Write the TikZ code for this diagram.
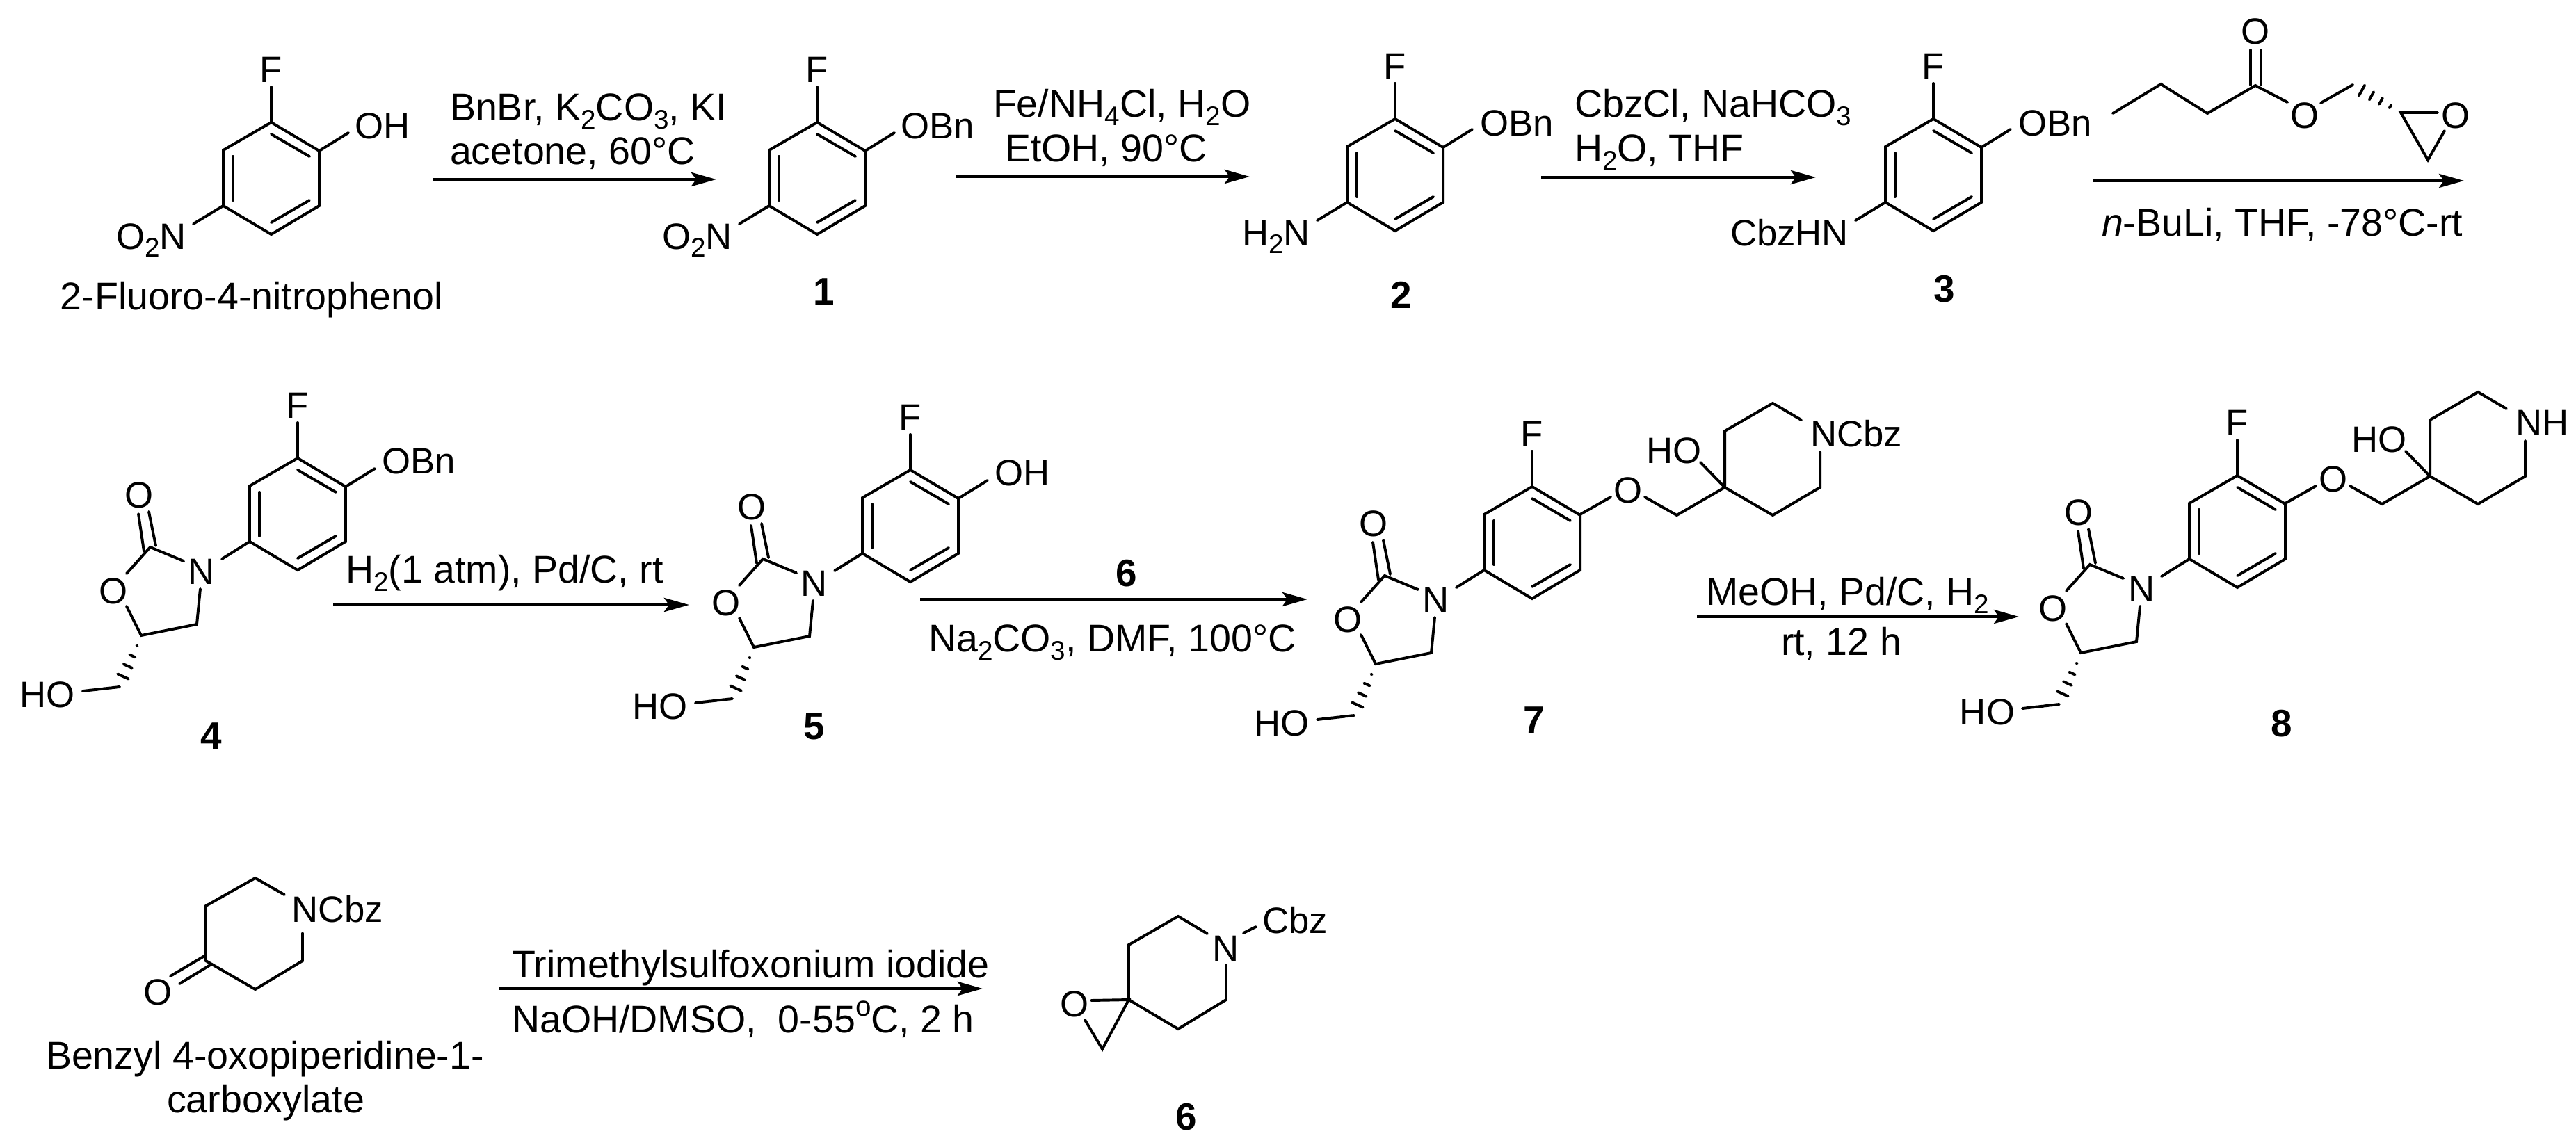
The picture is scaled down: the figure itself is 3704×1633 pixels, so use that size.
\documentclass[tikz,border=0pt]{standalone}
\usepackage{fontspec}
\setmainfont{Liberation Sans}
\usetikzlibrary{arrows.meta,calc}
\newcommand\sbs[1]{\raisebox{-.22em}{\fontsize{11}{12}\selectfont #1}}
\newcommand\sps[1]{\raisebox{.42em}{\fontsize{11.5}{12}\selectfont #1}}
\tikzset{
  lab/.style={font=\fontsize{15}{18}\selectfont,inner sep=0pt,outer sep=0pt,anchor=base west},
  labr/.style={lab,anchor=base east},
  labc/.style={lab,anchor=base},
  rlab/.style={font=\fontsize{15.8}{18}\selectfont,inner sep=0pt,outer sep=0pt,anchor=base west},
  num/.style={inner sep=0pt,outer sep=0pt,anchor=base,font=\fontsize{15.6}{18}\selectfont\bfseries},
  bond/.style={line width=1.12pt,line join=miter,line cap=round},
  rxn/.style={line width=1.35pt,-{Stealth[length=0.36cm,width=0.2cm,inset=0.07cm]}}
}
% benzene ring with its fluorine, origin at the ring's top atom
\newcommand\ArF{%
  \draw[bond] (0,0) -- (69,41) -- (69,120) -- (0,161) -- (-69,120) -- (-69,40) -- cycle;
  \draw[bond] (0,17) -- (55,49);
  \draw[bond] (-55,49) -- (-55,112);
  \draw[bond] (0,144) -- (55,112);
  \draw[bond] (0,-51) -- (0,0);
  \node[labc] (F) at (0,-58) {F};
}
\newcommand\hashb[3]{%
  \coordinate (he) at ($(#1)!1.5!(#2)$);
  \foreach \hf/\hw in {#3}{%
    \coordinate (hc) at ($(#1)!\hf!(#2)$);
    \draw[bond] ($(hc)!\hw*0.01cm!90:(he)$) -- ($(hc)!\hw*0.01cm!-90:(he)$);
  }%
}
% oxazolidinone with hydroxymethyl, same origin
\newcommand\Oxaz{%
  \draw[bond] (-229,80) -- (-221,134);
  \draw[bond] (-214,77) -- (-204,126);
  \draw[bond] (-246,166) -- (-212,128) -- (-164,148);
  \draw[bond] (-109,145) -- (-69,120);
  \draw[bond] (-140,188) -- (-145,239) -- (-225,255) -- (-246,213);
  \hashb{-231,270}{-251,314}{0/0.6,0.33/4.5,0.66/6.5,1/8.5}
  \draw[bond] (-256,329) -- (-309,335);
  \node[labc] (Ocarb) at (-228,71) {O};
  \node[labc] (Nox) at (-138,181) {N};
  \node[labc] (Oring) at (-265,209) {O};
  \node[labr] (HOm) at (-320,358) {HO};
}
% ether side chain with piperidine ring
\newcommand\Side[1]{%
  \draw[bond] (69,40) -- (113,15);
  \draw[bond] (162,15) -- (208,41) -- (277,1) -- (242,-35);
  \draw[bond] (277,1) -- (277,-80) -- (346,-120) -- (387,-96);
  \draw[bond] (414,-50) -- (414,1) -- (346,41) -- (277,1);
  \node[labc] (Oeth) at (138,23) {O};
  \node[lab] (HOq) at (164,-34) {HO};
  \node[lab] (Npip) at (400,-58) {#1};
}
\begin{document}
\begin{tikzpicture}[x=0.01cm,y=-0.01cm]
\useasboundingbox (0,0) rectangle (3704,1633);
\fill[white] (0,0) rectangle (3704,1633);

% 2-fluoro-4-nitrophenol
\begin{scope}[shift={(390,176)},name prefix=a-]
  \ArF
  \draw[bond] (69,41) -- (111,15);
  \draw[bond] (-69,120) -- (-112,146);
  \node[lab] (OH) at (120,23) {OH};
  \node[labr] (no) at (-122,182) {O\sbs{2}N};
\end{scope}
\node[rlab] (nameA) at (87,445) {2-Fluoro-4-nitrophenol};

% 1
\begin{scope}[shift={(1175,176)},name prefix=b-]
  \ArF
  \draw[bond] (69,41) -- (111,15);
  \draw[bond] (-69,120) -- (-112,146);
  \node[lab] (OBn) at (120,23) {OBn};
  \node[labr] (no) at (-122,182) {O\sbs{2}N};
\end{scope}
\node[num] (n1) at (1185,438) {1};

% 2
\begin{scope}[shift={(2006,171)},name prefix=c-]
  \ArF
  \draw[bond] (69,41) -- (111,15);
  \draw[bond] (-69,120) -- (-112,146);
  \node[lab] (OBn) at (122,24) {OBn};
  \node[labr] (nh) at (-122,182) {H\sbs{2}N};
\end{scope}
\node[num] (n2) at (2015,443) {2};

% 3
\begin{scope}[shift={(2780,171)},name prefix=d-]
  \ArF
  \draw[bond] (69,41) -- (111,15);
  \draw[bond] (-69,120) -- (-112,146);
  \node[lab] (OBn) at (122,24) {OBn};
  \node[labr] (nh) at (-122,182) {CbzHN};
\end{scope}
\node[num] (n3) at (2796,434) {3};

% glycidyl butyrate
\draw[bond] (3038,163) -- (3107,121) -- (3174,163) -- (3243,123) -- (3289,147);
\draw[bond] (3236,122) -- (3236,72);
\draw[bond] (3251,122) -- (3251,72);
\draw[bond] (3337,148) -- (3383,122);
\begin{scope}[name prefix=g-]
  \hashb{3437,153}{3396,130}{0/2.5,0.33/5,0.66/6.5,1/8.5}
\end{scope}
\draw[bond] (3505,162) -- (3452,162) -- (3491,230) -- (3515,188);
\node[labc] (gO1) at (3243,64) {O};
\node[labc] (gO2) at (3314,184) {O};
\node[labc] (gO3) at (3531,184) {O};

% reaction arrows, top row
\coordinate (r1s) at (622,258); \coordinate (r1e) at (1030,258);
\draw[rxn] (r1s) -- (r1e);
\node[rlab] (r1a) at (647,173) {BnBr, K\sbs{2}CO\sbs{3}, KI};
\node[rlab] (r1b) at (647,236) {acetone, 60°C};
\coordinate (r2s) at (1375,254); \coordinate (r2e) at (1797,254);
\draw[rxn] (r2s) -- (r2e);
\node[rlab] (r2a) at (1428,168) {Fe/NH\sbs{4}Cl, H\sbs{2}O};
\node[rlab] (r2b) at (1445,232) {EtOH, 90°C};
\coordinate (r3s) at (2216,255); \coordinate (r3e) at (2611,255);
\draw[rxn] (r3s) -- (r3e);
\node[rlab] (r3a) at (2264,168) {CbzCl, NaHCO\sbs{3}};
\node[rlab] (r3b) at (2264,232) {H\sbs{2}O, THF};
\coordinate (r4s) at (3009,260); \coordinate (r4e) at (3543,260);
\draw[rxn,line width=1.22pt] (r4s) -- (r4e);
\node[rlab] (r4b) at (3022,339) {\textit{n}-BuLi, THF, -78°C-rt};

% 4
\begin{scope}[shift={(428,659)},name prefix=e-]
  \ArF \Oxaz
  \draw[bond] (69,41) -- (111,15);
  \node[lab] (OBn) at (121,22) {OBn};
\end{scope}
\node[num] (n4) at (304,1077) {4};

% 5
\begin{scope}[shift={(1309,676)},name prefix=f-]
  \ArF \Oxaz
  \draw[bond] (69,41) -- (111,15);
  \node[lab] (OH) at (121,22) {OH};
\end{scope}
\node[num] (n5) at (1171,1063) {5};

% 7
\begin{scope}[shift={(2203,700)},name prefix=h-]
  \ArF \Oxaz \Side{NCbz}
\end{scope}
\node[num] (n7) at (2206,1054) {7};

% 8
\begin{scope}[shift={(3217,684)},name prefix=i-]
  \ArF \Oxaz \Side{NH}
\end{scope}
\node[num] (n8) at (3281,1059) {8};

% reaction arrows, middle row
\coordinate (r5s) at (479,870); \coordinate (r5e) at (991,870);
\draw[rxn] (r5s) -- (r5e);
\node[rlab] (r5a) at (497,838) {H\sbs{2}(1 atm), Pd/C, rt};
\coordinate (r6s) at (1323,862); \coordinate (r6e) at (1880,862);
\draw[rxn] (r6s) -- (r6e);
\node[num] (r6a) at (1620,843) {6};
\node[rlab] (r6b) at (1335,937) {Na\sbs{2}CO\sbs{3}, DMF, 100°C};
\coordinate (r7s) at (2440,887); \coordinate (r7e) at (2903,887);
\draw[rxn,line width=1.22pt] (r7s) -- (r7e);
\node[rlab] (r7a) at (2453,870) {MeOH, Pd/C, H\sbs{2}};
\node[rlab] (r7b) at (2561,942) {rt, 12 h};

% benzyl 4-oxopiperidine-1-carboxylate
\draw[bond] (409,1287) -- (367,1263) -- (296,1303) -- (296,1382) -- (367,1423) -- (435,1382) -- (435,1342);
\draw[bond] (294,1375) -- (245,1404);
\draw[bond] (304,1387) -- (258,1415);
\node[lab] (pN) at (419,1326) {NCbz};
\node[labc] (pO) at (227,1445) {O};
\node[rlab] (nameP1) at (66,1537) {Benzyl 4-oxopiperidine-1-};
\node[rlab] (nameP2) at (240,1600) {carboxylate};

% reaction arrow, bottom row
\coordinate (r8s) at (718,1422); \coordinate (r8e) at (1413,1422);
\draw[rxn] (r8s) -- (r8e);
\node[rlab] (r8a) at (736,1406) {Trimethylsulfoxonium iodide};
\node[rlab] (r8b) at (736,1485) {NaOH/DMSO,\ \ 0-55\sps{o}C, 2 h};

% 6
\draw[bond] (1736,1343) -- (1694,1318) -- (1623,1359) -- (1623,1438) -- (1694,1480) -- (1763,1438) -- (1763,1388);
\draw[bond] (1788,1342) -- (1806,1333);
\draw[bond] (1569,1439) -- (1623,1438) -- (1585,1509) -- (1560,1467);
\node[labc] (sN) at (1763,1382) {N};
\node[lab] (sC) at (1815,1342) {Cbz};
\node[labc] (sO) at (1545,1462) {O};
\node[num] (n6) at (1706,1625) {6};
\end{tikzpicture}
\end{document}
